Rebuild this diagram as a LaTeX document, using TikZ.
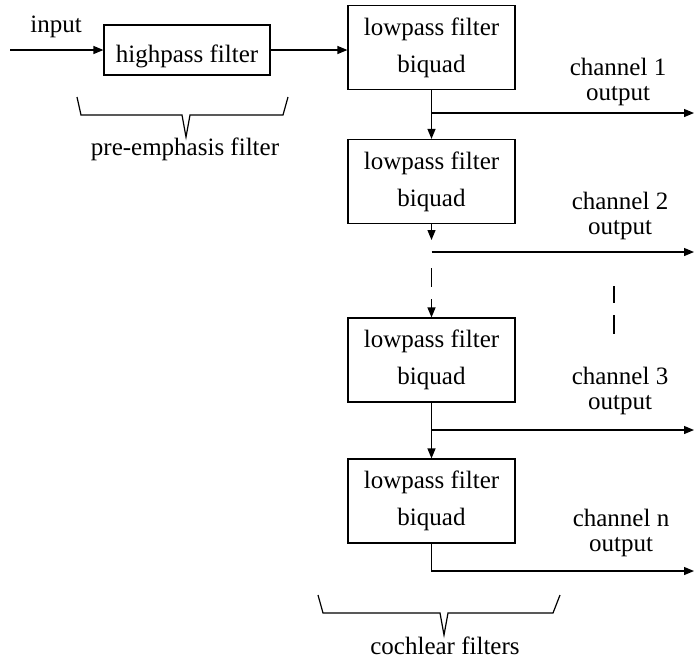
\documentclass[tikz,border=0pt]{standalone}
\usepackage{fontspec}
\setmainfont{Liberation Serif}
\usetikzlibrary{arrows.meta}
\begin{document}
\begin{tikzpicture}[x=0.5pt,y=-0.5pt,
  line width=0.6pt,
  every node/.style={font=\fontsize{12.5}{18.5}\selectfont, inner sep=0pt},
  filterbox/.style={draw, minimum width=83.5pt, minimum height=42pt, align=center},
  flow/.style={-{Triangle[length=5pt,width=4pt]}},
  chlabel/.style={align=center, font=\fontsize{12.5}{12.5}\selectfont},
  brace/.style={line join=miter}]
% canvas
\path[fill=white, use as bounding box] (0,0) rectangle (695,670);

% pre-emphasis stage
\node[filterbox, minimum width=83pt, minimum height=25pt,
      text height=15pt, text depth=3pt] (hp) at (187,50) {highpass filter};
\node[anchor=base] (in) at (56,32) {input};
\coordinate (src) at (10,50);
\draw[flow] (src) -- (hp.west);

% cochlear filter cascade
\node[filterbox] (b1) at (431.5,47.5) {lowpass filter\\biquad};
\node[filterbox] (b2) at (431.5,181.5) {lowpass filter\\biquad};
\node[filterbox] (b3) at (431.5,360) {lowpass filter\\biquad};
\node[filterbox] (b4) at (431.5,501) {lowpass filter\\biquad};

\draw[flow] (hp.east) -- (hp.east -| b1.west);

% stage 1 -> stage 2
\draw[flow] (b1) -- (b2);
\coordinate (t1) at (431.5,113);
\coordinate (e1) at (694,113);
\draw[flow] (t1) -- (e1);

% stage 2 -> stage 3 (elided stages)
\coordinate (d1) at (431.5,240);
\draw[flow] (b2.south) -- (d1);
\coordinate (t2) at (431.5,252);
\coordinate (e2) at (694,252);
\draw[flow] (t2) -- (e2);
\coordinate (g1) at (431.5,268);
\coordinate (g2) at (431.5,287);
\draw (g1) -- (g2);
\coordinate (g3) at (431.5,299);
\draw[flow] (g3) -- (b3.north);

% elided outputs
\draw (614,286) -- (614,303);
\draw (614,315) -- (614,334);

% stage 3 -> stage n
\draw[flow] (b3) -- (b4);
\coordinate (t3) at (431.5,430);
\coordinate (e3) at (694,430);
\draw[flow] (t3) -- (e3);

% last stage output
\coordinate (e4) at (694,571);
\draw[flow] (b4.south) |- (e4);

% channel labels
\node[chlabel] (c1) at (618,82) {channel 1\\output};
\node[chlabel] (c2) at (620,216) {channel 2\\output};
\node[chlabel] (c3) at (620,391) {channel 3\\output};
\node[chlabel] (cn) at (621,533) {channel n\\output};

% braces and group captions
\draw[brace] (77,97) -- (81,115) -- (182,115) -- (186,137) -- (190,115) -- (283,115) -- (288,97);
\node[anchor=base] (pe) at (185,155) {pre-emphasis filter};
\draw[brace] (318,595) -- (323,613) -- (440,613) -- (444,635) -- (448,613) -- (553,613) -- (560,595);
\node[anchor=base] (cf) at (445,654) {cochlear filters};
\end{tikzpicture}
\end{document}
